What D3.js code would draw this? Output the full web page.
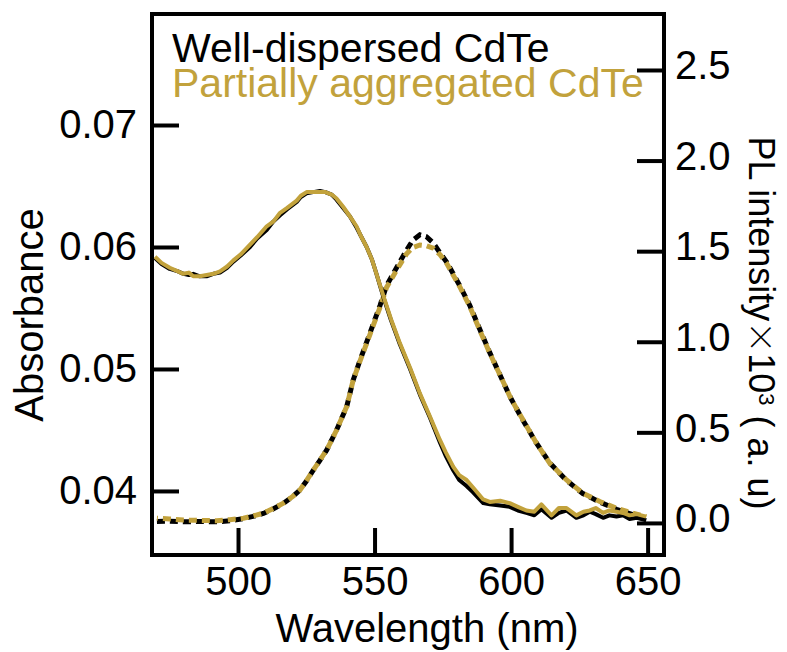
<!DOCTYPE html>
<html>
<head>
<meta charset="utf-8">
<script src="https://cdn.jsdelivr.net/npm/d3@7"></script>
<style>
  body { margin: 0; background: #fff; }
  svg { display: block; }
  text { font-family: "Liberation Sans", Arial, sans-serif; fill: #000; }
</style>
</head>
<body>
<div id="chart"></div>
<script>
// absorbance, solid lines (left axis)
const absWl = [469.6, 472, 475, 478, 480, 482, 483.6, 486, 488.5, 491, 493.4, 496, 498.3, 501, 504.4, 507, 510.5, 513, 515.4, 518, 521.5, 523, 525.1, 527.5, 530, 532, 534.3, 536, 538.5, 541, 543.4, 545, 547.1, 549, 550.7, 553.5, 556, 559.3, 563, 566.6, 570.3, 573.9, 576, 578.8, 581, 583.7, 586, 589.8, 592.2, 596, 599.5, 602.5, 605.6, 608.5, 611.1, 614.8, 617.5, 620.3, 623.9, 626.5, 628.8, 631, 633.7, 636, 638.6, 641, 643.4, 646, 649.5];
const absWell = [0.0591, 0.0586, 0.0582, 0.0580, 0.0578, 0.0577, 0.0578, 0.0576, 0.0576, 0.0578, 0.0579, 0.0583, 0.0588, 0.0593, 0.0600, 0.0607, 0.0614, 0.0621, 0.0626, 0.0631, 0.0637, 0.0641, 0.0644, 0.0645, 0.0646, 0.0645, 0.0643, 0.0639, 0.0632, 0.0625, 0.0616, 0.0609, 0.0600, 0.0590, 0.0578, 0.0557, 0.0540, 0.0520, 0.0500, 0.0479, 0.0460, 0.0440, 0.0429, 0.0417, 0.0409, 0.0404, 0.0399, 0.0390, 0.0389, 0.0388, 0.0387, 0.0384, 0.0382, 0.0380, 0.0385, 0.0378, 0.0382, 0.0384, 0.0378, 0.0380, 0.0383, 0.0381, 0.0378, 0.0380, 0.0379, 0.0380, 0.0377, 0.0378, 0.0376];
const absAgg = [0.0592, 0.0587, 0.0583, 0.0580, 0.0578, 0.0579, 0.0576, 0.0576, 0.0577, 0.0578, 0.0580, 0.0584, 0.0589, 0.0594, 0.0602, 0.0608, 0.0617, 0.0621, 0.0628, 0.0632, 0.0638, 0.0642, 0.0645, 0.0645, 0.0645, 0.0645, 0.0643, 0.0640, 0.0633, 0.0625, 0.0617, 0.0609, 0.0600, 0.0590, 0.0578, 0.0558, 0.0541, 0.0521, 0.0501, 0.0480, 0.0461, 0.0442, 0.0432, 0.0420, 0.0413, 0.0409, 0.0403, 0.0393, 0.0391, 0.0392, 0.0390, 0.0387, 0.0384, 0.0383, 0.0389, 0.0380, 0.0386, 0.0386, 0.0380, 0.0383, 0.0384, 0.0386, 0.0382, 0.0384, 0.0383, 0.0382, 0.0380, 0.0381, 0.0379];

// PL, dotted lines (right axis, x10^3)
const plWl = [470.3, 475, 480, 486, 492.2, 497, 502, 505.5, 509.3, 513, 516.6, 520, 522.7, 525, 527.6, 530, 532.5, 536.1, 539.8, 542.2, 544.6, 548.3, 552, 554.4, 558.1, 561.7, 564, 566.6, 569, 571.5, 574, 576.4, 581.2, 584.9, 588.5, 592.2, 596, 599.5, 602, 604.4, 609.3, 614.2, 620.3, 626.3, 632.5, 638.6, 644.6, 649.5];
const plWell = [0.008, 0.010, 0.006, 0.008, 0.006, 0.012, 0.024, 0.036, 0.052, 0.078, 0.108, 0.145, 0.182, 0.230, 0.292, 0.345, 0.403, 0.513, 0.642, 0.789, 0.895, 1.047, 1.200, 1.310, 1.410, 1.505, 1.560, 1.590, 1.580, 1.545, 1.490, 1.440, 1.310, 1.200, 1.070, 0.940, 0.815, 0.700, 0.630, 0.565, 0.440, 0.330, 0.235, 0.162, 0.115, 0.075, 0.045, 0.020];
const plAgg = [0.026, 0.022, 0.016, 0.014, 0.012, 0.018, 0.026, 0.038, 0.054, 0.080, 0.109, 0.146, 0.182, 0.232, 0.292, 0.346, 0.403, 0.513, 0.642, 0.789, 0.890, 1.040, 1.190, 1.300, 1.396, 1.485, 1.520, 1.534, 1.530, 1.516, 1.480, 1.433, 1.304, 1.194, 1.065, 0.937, 0.815, 0.700, 0.630, 0.568, 0.440, 0.329, 0.237, 0.164, 0.118, 0.081, 0.054, 0.035];

const xTicks = [500, 550, 600, 650];
const absTicks = [0.04, 0.05, 0.06, 0.07];
const plTicks = [0, 0.5, 1.0, 1.5, 2.0, 2.5];
const legendLabels = ['Well-dispersed CdTe', 'Partially aggregated CdTe'];

const BLACK = '#000000';
const GOLD = '#c2a23c';

const width = 787, height = 652;
const margin = { top: 14, right: 123, bottom: 97, left: 152 };
const w = width - margin.left - margin.right;
const h = height - margin.top - margin.bottom;

const svg = d3.select('#chart').append('svg')
    .attr('width', width)
    .attr('height', height);

const g = svg.append('g')
    .attr('transform', `translate(${margin.left},${margin.top})`);

const x = d3.scaleLinear().domain([468.5, 656]).range([0, w]);
const yAbs = d3.scaleLinear().domain([0.03475, 0.0791]).range([h, 0]);
const yPl = d3.scaleLinear().domain([-0.177, 2.809]).range([h, 0]);

// axes, ticks pointing inward
const xAxis = g.append('g')
    .attr('transform', `translate(0,${h})`)
    .call(d3.axisBottom(x).tickValues(xTicks).tickFormat(d3.format('d'))
        .tickSizeInner(-27).tickSizeOuter(0).tickPadding(12));

const leftAxis = g.append('g')
    .call(d3.axisLeft(yAbs).tickValues(absTicks).tickFormat(d3.format('.2f'))
        .tickSizeInner(-27).tickSizeOuter(0).tickPadding(15));

const rightAxis = g.append('g')
    .attr('transform', `translate(${w},0)`)
    .call(d3.axisRight(yPl).tickValues(plTicks).tickFormat(d3.format('.1f'))
        .tickSizeInner(-27).tickSizeOuter(0).tickPadding(11));

[xAxis, leftAxis, rightAxis].forEach(a => {
    a.select('.domain').remove();
    a.selectAll('.tick line').attr('stroke', BLACK).attr('stroke-width', 4);
    a.selectAll('.tick text')
        .style('font-family', '"Liberation Sans", Arial, sans-serif')
        .style('font-size', '40px')
        .attr('fill', BLACK);
});
rightAxis.selectAll('.tick text').attr('dy', '0.22em');

// lines
const absLine = (ys) => d3.line()
    .x((d, i) => x(absWl[i]))
    .y(d => yAbs(d))(ys);
const plLine = (ys) => d3.line()
    .x((d, i) => x(plWl[i]))
    .y(d => yPl(d))(ys);

g.append('path')
    .attr('d', plLine(plWell))
    .attr('fill', 'none')
    .attr('stroke', BLACK)
    .attr('stroke-width', 5)
    .attr('stroke-dasharray', '8,5');

g.append('path')
    .attr('d', plLine(plAgg))
    .attr('fill', 'none')
    .attr('stroke', GOLD)
    .attr('stroke-width', 5)
    .attr('stroke-dasharray', '8,5')
    .attr('stroke-dashoffset', 7);

g.append('path')
    .attr('d', absLine(absWell))
    .attr('fill', 'none')
    .attr('stroke', BLACK)
    .attr('stroke-width', 4)
    .attr('stroke-linejoin', 'round');

g.append('path')
    .attr('d', absLine(absAgg))
    .attr('fill', 'none')
    .attr('stroke', GOLD)
    .attr('stroke-width', 4)
    .attr('stroke-linejoin', 'round');

// frame
g.append('rect')
    .attr('x', 0).attr('y', 0)
    .attr('width', w).attr('height', h)
    .attr('fill', 'none')
    .attr('stroke', BLACK)
    .attr('stroke-width', 4);

// legend
legendLabels.forEach((t, i) => {
    svg.append('text')
        .attr('x', 172)
        .attr('y', 62 + i * 35)
        .style('font-size', '41px')
        .style('fill', i === 0 ? BLACK : GOLD)
        .text(t);
});

// axis titles
svg.append('text')
    .attr('x', 427)
    .attr('y', 642)
    .attr('text-anchor', 'middle')
    .style('font-size', '40px')
    .text('Wavelength (nm)');

svg.append('text')
    .attr('transform', 'translate(43,315) rotate(-90)')
    .attr('text-anchor', 'middle')
    .style('font-size', '40px')
    .text('Absorbance');

const plTitle = svg.append('text')
    .attr('transform', 'translate(749,323) rotate(90)')
    .attr('text-anchor', 'middle')
    .style('font-size', '36px');
plTitle.append('tspan').text('PL intensity');
plTitle.append('tspan')
    .style('font-family', '"Noto Sans CJK JP", sans-serif')
    .style('font-weight', 300)
    .style('font-size', '32px')
    .text('×');
plTitle.append('tspan').text('10');
plTitle.append('tspan')
    .attr('dy', '-0.45em')
    .style('font-size', '22px')
    .text('3');
plTitle.append('tspan')
    .attr('dy', '0.3em')
    .text(' ( a. u)');
</script>
</body>
</html>
